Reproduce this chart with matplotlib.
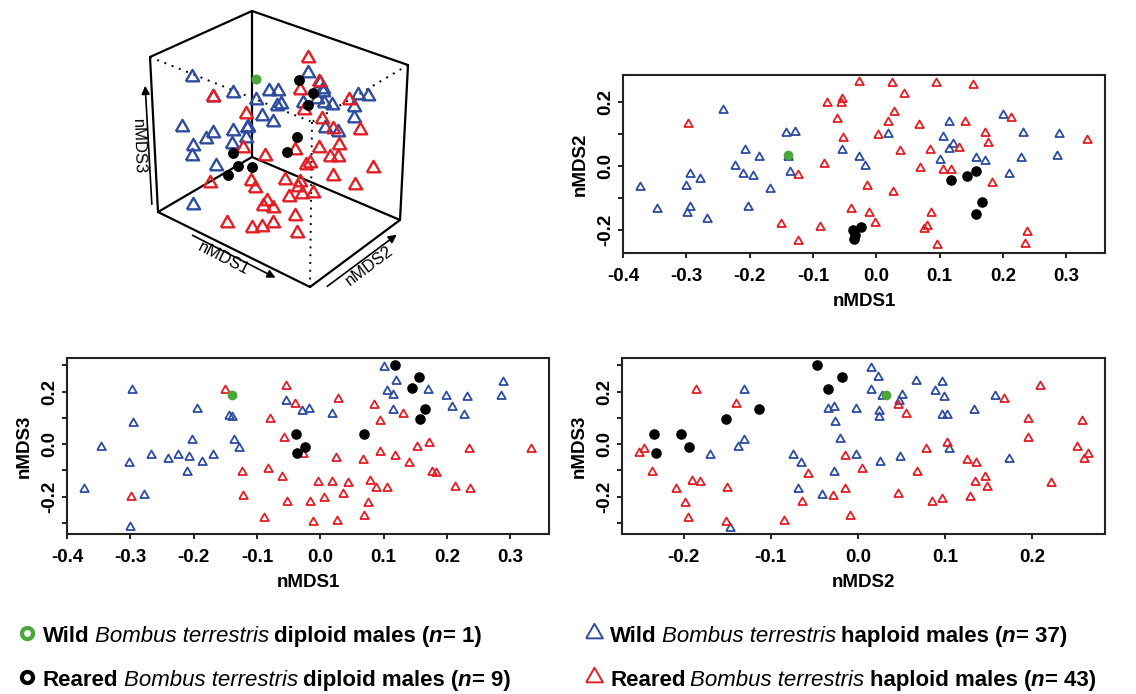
import matplotlib
matplotlib.use("Agg")
import matplotlib.pyplot as plt
from matplotlib.lines import Line2D

plt.rcParams["font.family"] = ["Liberation Sans", "DejaVu Sans"]

W, H = 1136, 694
BLUE = "#2e4d9f"
RED = "#e31f26"
GREEN = "#4aa83a"

# ---------- data: nMDS1 vs nMDS2 ----------
p1_blue_x = [-0.373, -0.346, -0.300, -0.295, -0.299, -0.295, -0.278, -0.268, -0.242, -0.223,
             -0.208, -0.210, -0.194, -0.186, -0.202, -0.168, -0.143, -0.128, -0.139, -0.136,
             -0.054, -0.028, -0.018, 0.018, 0.114, 0.105, 0.121, 0.114, 0.100, 0.157,
             0.171, 0.200, 0.231, 0.289, 0.228, 0.285, 0.209]
p1_blue_y = [-0.067, -0.135, -0.062, -0.025, -0.146, -0.127, -0.039, -0.167, 0.175, 0.000,
             0.050, -0.025, -0.031, 0.027, -0.127, -0.072, 0.104, 0.107, 0.029, -0.018,
             0.050, 0.027, 0.000, 0.100, 0.137, 0.092, 0.069, 0.053, 0.019, 0.026,
             0.017, 0.161, 0.102, 0.100, 0.026, 0.031, -0.025]
p1_red_x = [-0.298, -0.123, -0.150, -0.123, -0.089, -0.082, -0.078, -0.056, -0.055, -0.062,
            -0.053, -0.028, -0.015, -0.040, -0.011, -0.002, 0.003, 0.024, 0.094, 0.152,
            0.044, 0.028, 0.018, 0.068, 0.140, 0.213, 0.172, 0.177, 0.130, 0.085,
            0.037, 0.333, 0.069, 0.105, 0.118, 0.183, 0.026, 0.087, 0.080, 0.076,
            0.096, 0.238, 0.234]
p1_red_y = [0.131, -0.028, -0.182, -0.233, -0.192, 0.006, 0.198, 0.198, 0.209, 0.147,
            0.087, 0.263, -0.062, -0.135, -0.148, -0.177, 0.097, 0.260, 0.260, 0.253,
            0.225, 0.170, 0.137, 0.128, 0.139, 0.149, 0.105, 0.071, 0.057, 0.050,
            0.048, 0.081, -0.005, -0.013, -0.013, -0.054, -0.082, -0.148, -0.188, -0.197,
            -0.247, -0.205, -0.244]
p1_black_x = [-0.037, -0.024, -0.036, -0.033, 0.118, 0.143, 0.157, 0.167, 0.158]
p1_black_y = [-0.200, -0.190, -0.229, -0.215, -0.044, -0.031, -0.015, -0.111, -0.150]
p1_green_x = [-0.140]
p1_green_y = [0.034]

# ---------- data: nMDS1 vs nMDS3 ----------
p2_blue_x = [-0.297, -0.296, -0.347, -0.373, -0.302, -0.279, -0.300, -0.268, -0.241, -0.224,
             -0.208, -0.210, -0.187, -0.169, -0.203, -0.194, -0.144, -0.139, -0.137, -0.128,
             -0.055, -0.029, -0.018, 0.100, 0.120, 0.105, 0.114, 0.170, 0.199, 0.231,
             0.208, 0.227, 0.288, 0.285, 0.114, 0.018]
p2_blue_y = [0.205, 0.082, -0.010, -0.170, -0.073, -0.193, -0.317, -0.042, -0.058, -0.042,
             -0.048, -0.106, -0.068, -0.043, 0.015, 0.134, 0.107, 0.103, 0.015, -0.016,
             0.164, 0.126, 0.134, 0.293, 0.239, 0.202, 0.188, 0.207, 0.183, 0.179,
             0.141, 0.110, 0.236, 0.182, 0.129, 0.114]
p2_red_x = [-0.151, -0.055, -0.040, -0.079, -0.057, -0.028, -0.124, -0.082, -0.061, -0.122,
            -0.299, -0.053, -0.016, -0.003, -0.089, -0.011, 0.028, 0.085, 0.130, 0.094,
            0.152, 0.171, 0.235, 0.332, 0.025, 0.068, 0.094, 0.118, 0.140, 0.176,
            0.182, 0.018, 0.044, 0.079, 0.088, 0.105, 0.213, 0.237, 0.035, 0.006,
            0.076, 0.027, 0.069]
p2_red_y = [0.205, 0.221, 0.152, 0.095, 0.025, -0.038, -0.106, -0.095, -0.125, -0.197,
            -0.203, -0.222, -0.222, -0.145, -0.282, -0.295, 0.173, 0.150, 0.116, 0.088,
            -0.010, 0.003, -0.018, -0.018, -0.054, -0.061, -0.031, -0.045, -0.073, -0.106,
            -0.111, -0.143, -0.149, -0.139, -0.168, -0.168, -0.164, -0.170, -0.189, -0.206,
            -0.225, -0.291, -0.275]
p2_black_x = [-0.038, -0.025, -0.037, 0.118, 0.156, 0.144, 0.166, 0.158, 0.069]
p2_black_y = [0.037, -0.010, -0.033, 0.303, 0.255, 0.213, 0.135, 0.095, 0.037]
p2_green_x = [-0.140]
p2_green_y = [0.189]

# ---------- data: nMDS2 vs nMDS3 ----------
p3_blue_x = [-0.131, -0.131, -0.138, -0.170, -0.147, -0.074, -0.065, -0.069, -0.041, -0.034,
             -0.027, -0.026, -0.021, -0.027, -0.002, -0.002, 0.015, 0.023, 0.015, 0.028,
             0.051, 0.047, 0.024, 0.024, 0.067, 0.097, 0.089, 0.099, 0.097, 0.102,
             0.133, 0.158, 0.025, 0.048, 0.105, 0.174]
p3_blue_y = [0.207, 0.015, -0.010, -0.042, -0.319, -0.042, -0.073, -0.172, -0.193, 0.135,
             0.141, 0.083, 0.018, -0.105, 0.135, -0.042, 0.290, 0.255, 0.205, 0.182,
             0.186, 0.163, 0.126, 0.103, 0.239, 0.236, 0.202, 0.179, 0.112, 0.110,
             0.129, 0.183, -0.069, -0.048, -0.019, -0.058]
p3_red_x = [-0.186, -0.140, -0.251, -0.246, -0.237, -0.209, -0.191, -0.181, -0.150, -0.199,
            -0.195, -0.151, -0.085, -0.057, -0.064, -0.029, -0.015, -0.015, -0.009, 0.046,
            0.055, 0.168, 0.209, 0.196, 0.196, 0.258, 0.252, 0.264, 0.260, 0.103,
            0.078, 0.005, 0.068, 0.126, 0.136, 0.146, 0.135, 0.148, 0.222, 0.046,
            0.085, 0.097, 0.129]
p3_red_y = [0.207, 0.152, -0.033, -0.018, -0.106, -0.172, -0.140, -0.145, -0.168, -0.225,
            -0.282, -0.297, -0.292, -0.114, -0.222, -0.197, -0.045, -0.172, -0.275, 0.150,
            0.116, 0.173, 0.221, 0.095, 0.025, 0.087, -0.010, -0.038, -0.057, 0.003,
            -0.019, -0.095, -0.107, -0.061, -0.073, -0.124, -0.143, -0.164, -0.149, -0.189,
            -0.222, -0.208, -0.202]
p3_black_x = [-0.234, -0.232, -0.203, -0.194, -0.152, -0.114, -0.047, -0.034, -0.018]
p3_black_y = [0.037, -0.033, 0.037, -0.010, 0.095, 0.135, 0.303, 0.211, 0.255]
p3_green_x = [0.032]
p3_green_y = [0.189]

# ---------- data: 3D cloud, projected positions ----------
cloud_blue_u = [191.7, 232.7, 256.0, 269.3, 278.3, 276.7, 280.7, 261.7, 272.7, 182.3,
                213.3, 206.0, 233.3, 247.3, 248.3, 246.0, 192.7, 191.7, 231.7, 216.0,
                192.7, 308.3, 320.0, 322.7, 303.3, 317.3, 324.0, 331.7, 358.3, 368.3,
                354.0, 354.0, 338.3, 325.0, 323.3, 213.0]
cloud_blue_v = [76.7, 92.7, 100.0, 90.7, 90.7, 106.0, 104.0, 116.0, 121.7, 127.3,
                133.3, 139.0, 130.7, 128.3, 126.7, 138.3, 146.0, 156.0, 144.0, 166.0,
                205.0, 73.3, 83.3, 89.3, 103.3, 99.3, 102.7, 105.0, 95.0, 96.0,
                106.7, 118.3, 131.7, 128.3, 92.0, 97.0]
cloud_red_u = [308.3, 212.7, 300.0, 319.3, 349.3, 246.0, 304.0, 321.7, 332.7, 360.0,
               339.3, 319.3, 330.0, 338.3, 295.0, 242.7, 265.0, 310.0, 306.0, 372.7,
               333.3, 355.0, 300.0, 285.0, 298.3, 301.7, 312.7, 289.3, 295.0, 296.7,
               210.0, 250.7, 255.0, 266.7, 263.3, 273.3, 226.7, 251.7, 261.7, 272.7]
cloud_red_v = [58.3, 96.7, 90.0, 81.7, 100.0, 114.0, 110.0, 119.3, 129.3, 130.0,
               145.0, 148.3, 156.7, 156.7, 150.0, 148.3, 156.0, 162.7, 165.0, 168.3,
               176.0, 185.0, 181.7, 180.0, 186.7, 194.0, 192.7, 197.3, 216.0, 232.7,
               182.7, 180.7, 188.3, 200.7, 205.7, 208.3, 222.7, 228.3, 227.3, 223.3]
cloud_black_u = [299.3, 313.3, 308.3, 297.3, 287.3, 233.3, 238.3, 251.7, 228.3]
cloud_black_v = [80.0, 92.7, 105.0, 136.7, 151.7, 153.3, 166.0, 166.7, 175.0]
cloud_green_u = [256.0]
cloud_green_v = [79.3]

# box corners of the 3D panel (A..H)
box = {"A": (150, 57), "B": (158, 212), "C": (252, 11), "D": (252, 157),
       "E": (408, 65), "F": (400, 220), "G": (310, 287), "H": (312, 122)}
solid_edges = ["AB", "BG", "GF", "FE", "EC", "CA", "CD", "DB", "DF"]
dotted_edges = ["AH", "EH", "HG"]

# equilateral open triangle like R pch=2
TRI = [(-0.866, -0.5), (0.866, -0.5), (0.0, 1.0), (-0.866, -0.5)]

fig = plt.figure(figsize=(W / 100, H / 100), dpi=100)


def px_axes(l, t, r, b):
    return fig.add_axes([l / W, 1 - b / H, (r - l) / W, (b - t) / H])


def scatter_panel(ax, bx, by, rx, ry, kx, ky, gx, gy):
    ax.plot(bx, by, ls="none", marker=TRI, ms=7.2, mfc="none", mec=BLUE, mew=1.3)
    ax.plot(rx, ry, ls="none", marker=TRI, ms=7.2, mfc="none", mec=RED, mew=1.3)
    ax.plot(kx, ky, ls="none", marker="o", ms=6.6, mfc="black", mec="black")
    ax.plot(gx, gy, ls="none", marker="o", ms=6.0, mfc=GREEN, mec=GREEN)
    for s in ax.spines.values():
        s.set_linewidth(1.5)
        s.set_color("#222222")
    ax.tick_params(direction="out", length=3.5, width=1.2, labelsize=13.5, pad=7)
    ax.tick_params(axis="y", labelrotation=90, pad=3)
    for lab in ax.get_yticklabels():
        lab.set_va("center")
    for lab in ax.get_xticklabels() + ax.get_yticklabels():
        lab.set_fontweight("bold")


x1_ticks = [-0.4, -0.3, -0.2, -0.1, 0.0, 0.1, 0.2, 0.3]
x1_labels = ["-0.4", "-0.3", "-0.2", "-0.1", "0.0", "0.1", "0.2", "0.3"]
y2_ticks = [-0.2, -0.1, 0.0, 0.1, 0.2]
y2_labels = ["-0.2", "", "0.0", "", "0.2"]
y3_ticks = [-0.3, -0.2, -0.1, 0.0, 0.1, 0.2, 0.3]
y3_labels = ["", "-0.2", "", "0.0", "", "0.2", ""]
x3_ticks = [-0.2, -0.1, 0.0, 0.1, 0.2]
x3_labels = ["-0.2", "-0.1", "0.0", "0.1", "0.2"]

# ---------- top right ----------
ax1 = px_axes(623, 75, 1105, 253)
ax1.set_xlim(-0.4, 0.361)
ax1.set_ylim(-0.272, 0.285)
ax1.set_xticks(x1_ticks, x1_labels)
ax1.set_yticks(y2_ticks, y2_labels)
scatter_panel(ax1, p1_blue_x, p1_blue_y, p1_red_x, p1_red_y,
              p1_black_x, p1_black_y, p1_green_x, p1_green_y)
ax1.set_xlabel("nMDS1", fontsize=13.5, fontweight="bold", labelpad=6)
ax1.set_ylabel("nMDS2", fontsize=13.5, fontweight="bold", labelpad=6)

# ---------- bottom left ----------
ax2 = px_axes(67, 358, 549, 534)
ax2.set_xlim(-0.4, 0.361)
ax2.set_ylim(-0.342, 0.328)
ax2.set_xticks(x1_ticks, x1_labels)
ax2.set_yticks(y3_ticks, y3_labels)
scatter_panel(ax2, p2_blue_x, p2_blue_y, p2_red_x, p2_red_y,
              p2_black_x, p2_black_y, p2_green_x, p2_green_y)
ax2.set_xlabel("nMDS1", fontsize=13.5, fontweight="bold", labelpad=6)
ax2.set_ylabel("nMDS3", fontsize=13.5, fontweight="bold", labelpad=6)

# ---------- bottom right ----------
ax3 = px_axes(622, 358, 1105, 534)
ax3.set_xlim(-0.271, 0.284)
ax3.set_ylim(-0.342, 0.328)
ax3.set_xticks(x3_ticks, x3_labels)
ax3.set_yticks(y3_ticks, y3_labels)
scatter_panel(ax3, p3_blue_x, p3_blue_y, p3_red_x, p3_red_y,
              p3_black_x, p3_black_y, p3_green_x, p3_green_y)
ax3.set_xlabel("nMDS2", fontsize=13.5, fontweight="bold", labelpad=6)
ax3.set_ylabel("nMDS3", fontsize=13.5, fontweight="bold", labelpad=6)

# ---------- top left: 3D cloud ----------
ax0 = px_axes(100, 0, 460, 310)
ax0.set_xlim(100, 460)
ax0.set_ylim(310, 0)
ax0.axis("off")
for e in solid_edges:
    (u0, v0), (u1, v1) = box[e[0]], box[e[1]]
    ax0.plot([u0, u1], [v0, v1], color="black", lw=1.6, solid_capstyle="round")
for e in dotted_edges:
    (u0, v0), (u1, v1) = box[e[0]], box[e[1]]
    ax0.plot([u0, u1], [v0, v1], color="black", lw=1.4, ls=(0, (1, 3)))
ax0.plot(cloud_blue_u, cloud_blue_v, ls="none", marker=TRI, ms=11, mfc="none", mec=BLUE, mew=1.7)
ax0.plot(cloud_red_u, cloud_red_v, ls="none", marker=TRI, ms=11, mfc="none", mec=RED, mew=1.7)
ax0.plot(cloud_black_u, cloud_black_v, ls="none", marker="o", ms=6.8, mfc="black", mec="black")
ax0.plot(cloud_green_u, cloud_green_v, ls="none", marker="o", ms=6.2, mfc=GREEN, mec=GREEN)

arrow = dict(arrowstyle="-|>", color="black", lw=1.2, mutation_scale=12)
ax0.annotate("", xy=(145, 83), xytext=(152, 207), arrowprops=arrow)
ax0.text(138, 147, "nMDS3", rotation=-88, fontsize=12, ha="center", va="center")
ax0.annotate("", xy=(278, 279), xytext=(190, 234), arrowprops=arrow)
ax0.text(224, 259, "nMDS1", rotation=-27, fontsize=12, ha="center", va="center")
ax0.annotate("", xy=(399, 233), xytext=(325, 288), arrowprops=arrow)
ax0.text(369, 266, "nMDS2", rotation=37, fontsize=12, ha="center", va="center")

# ---------- legend ----------
renderer = fig.canvas.get_renderer()
LEG_SIZE = 16
SPACE = 5


def rich_line(x, y, pieces):
    for s, style, weight in pieces:
        if s == " ":
            x += SPACE
            continue
        t = fig.text(x / W, 1 - y / H, s, fontsize=LEG_SIZE, fontstyle=style,
                     fontweight=weight, ha="left", va="center_baseline")
        x += t.get_window_extent(renderer).width


def legend_row(x, y, marker, color, mew, ms, group, ploidy, n):
    fig.add_artist(Line2D([x / W], [1 - y / H], transform=fig.transFigure, ls="none",
                          marker=marker, ms=ms, mfc="none", mec=color, mew=mew))
    rich_line(x + 16, y + 1, [(group, "normal", "bold"), (" ", None, None),
                              ("Bombus terrestris", "italic", "normal"), (" ", None, None),
                              (ploidy + " males (", "normal", "bold"),
                              ("n", "italic", "bold"), ("= " + n + ")", "normal", "bold")])


legend_row(27, 633, "o", GREEN, 3.0, 8, "Wild", "diploid", "1")
legend_row(27, 677, "o", "black", 3.0, 8, "Reared", "diploid", "9")
legend_row(594, 633, TRI, BLUE, 1.4, 14, "Wild", "haploid", "37")
legend_row(594, 677, TRI, RED, 1.4, 14, "Reared", "haploid", "43")

fig.savefig("out.png", dpi=100)
